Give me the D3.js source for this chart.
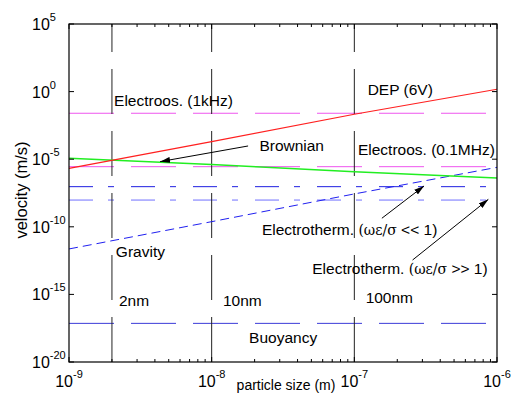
<!DOCTYPE html>
<html>
<head>
<meta charset="utf-8">
<script src="https://cdn.jsdelivr.net/npm/d3@7"></script>
<style>
body { margin: 0; background: #fff; }
svg text { font-family: "Liberation Sans", Arial, sans-serif; fill: #000; }
</style>
</head>
<body>
<div id="chart"></div>
<script>
// particle sizes (m) where the sloped curves were read
var sizes = [1e-9, 1e-8, 1e-7, 1e-6];
// velocities (m/s)
var dep = [2.1e-6, 2.0e-4, 2.1e-2, 1.5];
var brownian = [1.2e-5, 4.0e-6, 1.2e-6, 4.0e-7];
var gravity = [2.3e-12, 2.4e-10, 2.7e-8, 2.5e-6];
// size independent velocities
var electroos1k = 2.5e-2;
var electroos01M = 2.8e-6;
var etLow = 9.3e-8;
var etHigh = 9.5e-9;
var buoyancy = 7.2e-18;
// reference sizes marked with vertical lines
var markSizes = [2e-9, 1e-8, 1e-7];
var xTicks = [1e-9, 1e-8, 1e-7, 1e-6];
var xTickExp = ["-9", "-8", "-7", "-6"];
var yTicks = [1e5, 1e0, 1e-5, 1e-10, 1e-15, 1e-20];
var yTickExp = ["5", "0", "-5", "-10", "-15", "-20"];

var W = 511, H = 393;
var svg = d3.select("#chart").append("svg")
	.attr("width", W)
	.attr("height", H);

var x = d3.scaleLog().domain([1e-9, 1e-6]).range([69, 497]),
	y = d3.scaleLog().domain([1e-20, 1e5]).range([362, 24]);

var line = d3.line()
	.x(function (d) { return x(d[0]); })
	.y(function (d) { return y(d[1]); });

function flat(v) {
	return [[1e-9, v], [1e-6, v]];
}

/* horizontal lines */
var hlines = [
	{v: electroos1k, color: "#ee55ee", dash: "45,17", w: 1},
	{v: electroos01M, color: "#ee55ee", dash: "45,17", w: 1},
	{v: etLow, color: "#1f1fe0", dash: "24,15,6,17", w: 1},
	{v: etHigh, color: "#7070ff", dash: "24,15,6,17", w: 1},
	{v: buoyancy, color: "#3a3ad8", dash: "45,17", w: 1}
];
svg.selectAll(".hline")
	.data(hlines)
	.enter().append("path")
	.attr("class", "hline")
	.attr("d", function (d) { return line(flat(d.v)); })
	.attr("fill", "none")
	.attr("stroke", function (d) { return d.color; })
	.attr("stroke-width", function (d) { return d.w; })
	.attr("stroke-dasharray", function (d) { return d.dash; });

/* vertical reference lines, dashes start from the bottom */
svg.selectAll(".vline")
	.data(markSizes)
	.enter().append("path")
	.attr("class", "vline")
	.attr("d", function (d) { return line([[d, 1e-20], [d, 1e5]]); })
	.attr("fill", "none")
	.attr("stroke", "#222")
	.attr("stroke-width", 1)
	.attr("stroke-dasharray", "45,17");

/* sloped curves */
function pts(vals) {
	return sizes.map(function (s, i) { return [s, vals[i]]; });
}
svg.append("path")
	.attr("d", line(pts(gravity)))
	.attr("fill", "none")
	.attr("stroke", "#2020f0")
	.attr("stroke-width", 1)
	.attr("stroke-dasharray", "9,5");
svg.append("path")
	.attr("d", line(pts(brownian)))
	.attr("fill", "none")
	.attr("stroke", "#22ee22")
	.attr("stroke-width", 1.5);
svg.append("path")
	.attr("d", line(pts(dep)))
	.attr("fill", "none")
	.attr("stroke", "#ff2020")
	.attr("stroke-width", 1.2);

/* axes box and ticks */
var g = svg.append("g");
g.append("rect")
	.attr("x", x(1e-9)).attr("y", y(1e5))
	.attr("width", x(1e-6) - x(1e-9)).attr("height", y(1e-20) - y(1e5))
	.attr("fill", "none").attr("stroke", "#000").attr("stroke-width", 1.2);

var minor = [];
for (var e = -9; e < -6; e++) {
	for (var k = 2; k < 10; k++) minor.push(k * Math.pow(10, e));
}
function xTickLines(vals, len) {
	vals.forEach(function (v) {
		g.append("line").attr("x1", x(v)).attr("x2", x(v))
			.attr("y1", y(1e-20)).attr("y2", y(1e-20) - len)
			.attr("stroke", "#000");
		g.append("line").attr("x1", x(v)).attr("x2", x(v))
			.attr("y1", y(1e5)).attr("y2", y(1e5) + len)
			.attr("stroke", "#000");
	});
}
xTickLines(minor, 3);
xTickLines(xTicks, 5);
yTicks.forEach(function (v) {
	g.append("line").attr("x1", x(1e-9)).attr("x2", x(1e-9) + 5)
		.attr("y1", y(v)).attr("y2", y(v)).attr("stroke", "#000");
	g.append("line").attr("x1", x(1e-6)).attr("x2", x(1e-6) - 5)
		.attr("y1", y(v)).attr("y2", y(v)).attr("stroke", "#000");
});

/* tick labels */
xTicks.forEach(function (v, i) {
	var t = g.append("text")
		.attr("x", x(v)).attr("y", 387)
		.attr("text-anchor", "middle")
		.style("font-size", "16px");
	t.append("tspan").text("10");
	t.append("tspan").attr("dy", -9).style("font-size", "11px").text(xTickExp[i]);
});
yTicks.forEach(function (v, i) {
	var t = g.append("text")
		.attr("x", 32).attr("y", y(v) + 6)
		.style("font-size", "16px");
	t.append("tspan").text("10");
	t.append("tspan").attr("dy", -9).style("font-size", "11px").text(yTickExp[i]);
});

/* axis titles */
svg.append("text")
	.attr("x", 286).attr("y", 390)
	.attr("text-anchor", "middle")
	.style("font-size", "14px")
	.text("particle size (m)");
svg.append("text")
	.attr("transform", "translate(27," + 190 + ") rotate(-90)")
	.attr("text-anchor", "middle")
	.style("font-size", "16.5px")
	.text("velocity (m/s)");

/* annotations: [size, velocity] anchors */
var labels = [
	{t: "Electroos. (1kHz)", p: [2.07e-9, 8.5e-2]},
	{t: "DEP (6V)", p: [1.24e-7, 0.56]},
	{t: "Brownian", p: [2.16e-8, 4.3e-5]},
	{t: "Electroos. (0.1MHz)", p: [1.06e-7, 2.0e-5]},
	{t: "Gravity", p: [2.13e-9, 5.9e-13]},
	{t: "2nm", p: [2.24e-9, 1.45e-16]},
	{t: "10nm", p: [1.2e-8, 1.45e-16]},
	{t: "100nm", p: [1.2e-7, 2.3e-16]},
	{t: "Buoyancy", p: [1.83e-8, 2.5e-19]}
];
svg.selectAll(".lab")
	.data(labels)
	.enter().append("text")
	.attr("class", "lab")
	.attr("x", function (d) { return x(d.p[0]); })
	.attr("y", function (d) { return y(d.p[1]); })
	.style("font-size", "15.5px")
	.text(function (d) { return d.t; });

var etLabels = [
	{op: " << 1)", p: [2.25e-8, 2.45e-11]},
	{op: " >> 1)", p: [5.07e-8, 3.2e-14]}
];
etLabels.forEach(function (d) {
	var t = svg.append("text")
		.attr("x", x(d.p[0])).attr("y", y(d.p[1]))
		.style("font-size", "15.5px");
	t.append("tspan").text("Electrotherm. ");
	t.append("tspan").style("font-family", "'DejaVu Serif', serif").style("font-size", "14px").text("(\u03c9\u03b5/\u03c3");
	t.append("tspan").text(d.op);
});

/* arrows: [from, to] */
var arrows = [
	[[1.8e-8, 9.5e-5], [4.35e-9, 6.6e-6]],
	[[1.56e-7, 4.3e-10], [3.08e-7, 1.05e-7]],
	[[2.56e-7, 3.5e-13], [8.7e-7, 1.07e-8]]
];
svg.append("defs").append("marker")
	.attr("id", "head")
	.attr("viewBox", "0 0 10 6")
	.attr("refX", 10).attr("refY", 3)
	.attr("markerWidth", 10).attr("markerHeight", 6)
	.attr("markerUnits", "userSpaceOnUse")
	.attr("orient", "auto")
	.append("path").attr("d", "M0,0L10,3L0,6Z").attr("fill", "#000");
svg.selectAll(".arrow")
	.data(arrows)
	.enter().append("path")
	.attr("class", "arrow")
	.attr("d", function (d) { return line(d); })
	.attr("stroke", "#000")
	.attr("stroke-width", 1)
	.attr("fill", "none")
	.attr("marker-end", "url(#head)");
</script>
</body>
</html>
